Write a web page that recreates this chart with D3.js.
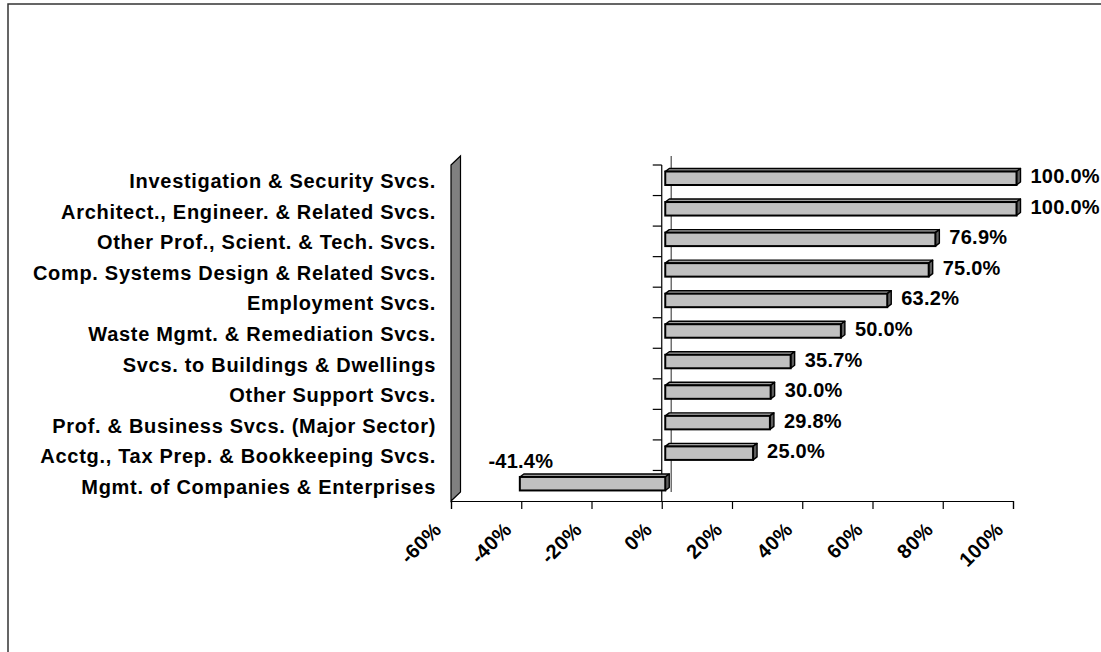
<!DOCTYPE html>
<html>
<head>
<meta charset="utf-8">
<script src="https://cdn.jsdelivr.net/npm/d3@7"></script>
<style>
  body { margin: 0; background: #fff; }
  svg { display: block; font-family: "Liberation Sans", Arial, sans-serif; font-weight: bold; }
</style>
</head>
<body>
<div id="chart"></div>
<script>
// categories, top to bottom
var categories = [
  "Investigation & Security Svcs.",
  "Architect., Engineer. & Related Svcs.",
  "Other Prof., Scient. & Tech. Svcs.",
  "Comp. Systems Design & Related Svcs.",
  "Employment Svcs.",
  "Waste Mgmt. & Remediation Svcs.",
  "Svcs. to Buildings & Dwellings",
  "Other Support Svcs.",
  "Prof. & Business Svcs. (Major Sector)",
  "Acctg., Tax Prep. & Bookkeeping Svcs.",
  "Mgmt. of Companies & Enterprises"
];
var values = [1.0, 1.0, 0.769, 0.75, 0.632, 0.5, 0.357, 0.30, 0.298, 0.25, -0.414];
var tickValues = [-0.6, -0.4, -0.2, 0, 0.2, 0.4, 0.6, 0.8, 1.0];

var W = 1101, H = 652;
// plot box (front of floor)
var pLeft = 451, pRight = 1013, pTop = 165, pBottom = 501;
// 3d depth of the whole plot, and of the bars
var depth = {x: 9.5, y: -9};
var barOff = {x: 3.5, y: -3}, barDepth = {x: 4, y: -3};

// excel style: plain hyphen for negatives
function pct(spec) {
  var f = d3.format(spec);
  return function(v) { return f(v).replace("\u2212", "-"); };
}

var svg = d3.select("#chart").append("svg")
  .attr("width", W).attr("height", H);

// outer frame (only top and left visible)
svg.append("path")
  .attr("d", "M8,652V4H1101")
  .attr("fill", "none").attr("stroke", "#333").attr("stroke-width", 1.5);

var x = d3.scaleLinear().domain([-0.6, 1.0]).range([pLeft, pRight]);
var y = d3.scaleBand().domain(categories).range([pTop, pBottom]).padding(0);

var pts = function(a) { return a.map(function(p) { return p.join(","); }).join(" "); };

// side wall on the left
svg.append("polygon")
  .attr("points", pts([
    [pLeft, pTop], [pLeft + depth.x, pTop + depth.y],
    [pLeft + depth.x, pBottom + depth.y], [pLeft, pBottom]
  ]))
  .attr("fill", "#808080").attr("stroke", "#000").attr("stroke-width", 1.2);

// zero line on the back
svg.append("line")
  .attr("x1", x(0) + depth.x).attr("x2", x(0) + depth.x)
  .attr("y1", pTop + depth.y).attr("y2", pBottom + depth.y)
  .attr("stroke", "#707070").attr("stroke-width", 1.5);

// category axis (front, at zero)
var yAxis = svg.append("g")
  .attr("transform", "translate(" + x(0) + ",0)");
yAxis.append("line")
  .attr("x1", 0).attr("x2", 0).attr("y1", pTop).attr("y2", pBottom)
  .attr("stroke", "#000").attr("stroke-width", 1.2);
yAxis.selectAll("line.tick")
  .data(categories)
  .join("line").attr("class", "tick")
  .attr("x1", -9).attr("x2", 0)
  .attr("y1", function(d) { return y(d); }).attr("y2", function(d) { return y(d); })
  .attr("stroke", "#000").attr("stroke-width", 1.2);

// bars
var bh = 13.5, bTop = 6.5;
var bars = svg.append("g").selectAll("g.bar")
  .data(categories.map(function(c, i) { return {c: c, v: values[i]}; }))
  .join("g").attr("class", "bar");

var fmt = pct(".1%");
bars.each(function(d) {
  var g = d3.select(this);
  var x0 = x(Math.min(0, d.v)) + barOff.x, x1 = x(Math.max(0, d.v)) + barOff.x;
  var y0 = y(d.c) + bTop, y1 = y0 + bh;
  var dx = barDepth.x, dy = barDepth.y;
  g.append("polygon")
    .attr("points", pts([[x0, y0], [x0 + dx, y0 + dy], [x1 + dx, y0 + dy], [x1, y0]]))
    .attr("fill", "#a0a0a0").attr("stroke", "#000").attr("stroke-width", 1.4).attr("stroke-linejoin", "round");
  g.append("polygon")
    .attr("points", pts([[x1, y0], [x1 + dx, y0 + dy], [x1 + dx, y1 + dy], [x1, y1]]))
    .attr("fill", "#606060").attr("stroke", "#000").attr("stroke-width", 1.4).attr("stroke-linejoin", "round");
  g.append("rect")
    .attr("x", x0).attr("y", y0).attr("width", x1 - x0).attr("height", bh)
    .attr("fill", "#c0c0c0").attr("stroke", "#000").attr("stroke-width", 2);

  // value label
  var t = g.append("text")
    .attr("font-size", 20).attr("font-weight", "bold").attr("letter-spacing", 0.25)
    .text(fmt(d.v));
  if (d.v >= 0) {
    t.attr("x", x1 + 14).attr("y", y0 + bh / 2 - 2)
      .attr("dominant-baseline", "central");
  } else {
    t.attr("x", x0 + 1).attr("y", y0 - 9)
      .attr("text-anchor", "middle");
  }
});

// category labels on the left
svg.append("g").selectAll("text")
  .data(categories)
  .join("text")
  .attr("x", 436)
  .attr("y", function(d) { return y(d) + y.bandwidth() / 2 + 1; })
  .attr("text-anchor", "end")
  .attr("dominant-baseline", "central")
  .attr("font-size", 20)
  .attr("font-weight", "bold")
  .attr("letter-spacing", 0.7)
  .text(function(d) { return d; });

// value axis at the bottom
var xAxis = svg.append("g")
  .attr("transform", "translate(0," + pBottom + ")")
  .call(d3.axisBottom(x).tickValues(tickValues).tickSize(8).tickFormat(pct(".0%")));
xAxis.select(".domain").attr("stroke", "#000").attr("stroke-width", 1.2);
xAxis.selectAll(".tick line").attr("stroke", "#000").attr("stroke-width", 1.2);
xAxis.selectAll(".tick text")
  .attr("font-family", "Liberation Sans, Arial, sans-serif")
  .attr("font-weight", "bold")
  .attr("font-size", 20)
  .attr("letter-spacing", 0.3)
  .attr("fill", "#000")
  .attr("text-anchor", "end")
  .attr("dy", null)
  .attr("x", -9).attr("y", 30)
  .attr("transform", "rotate(-45,-9,30)");
</script>
</body>
</html>
